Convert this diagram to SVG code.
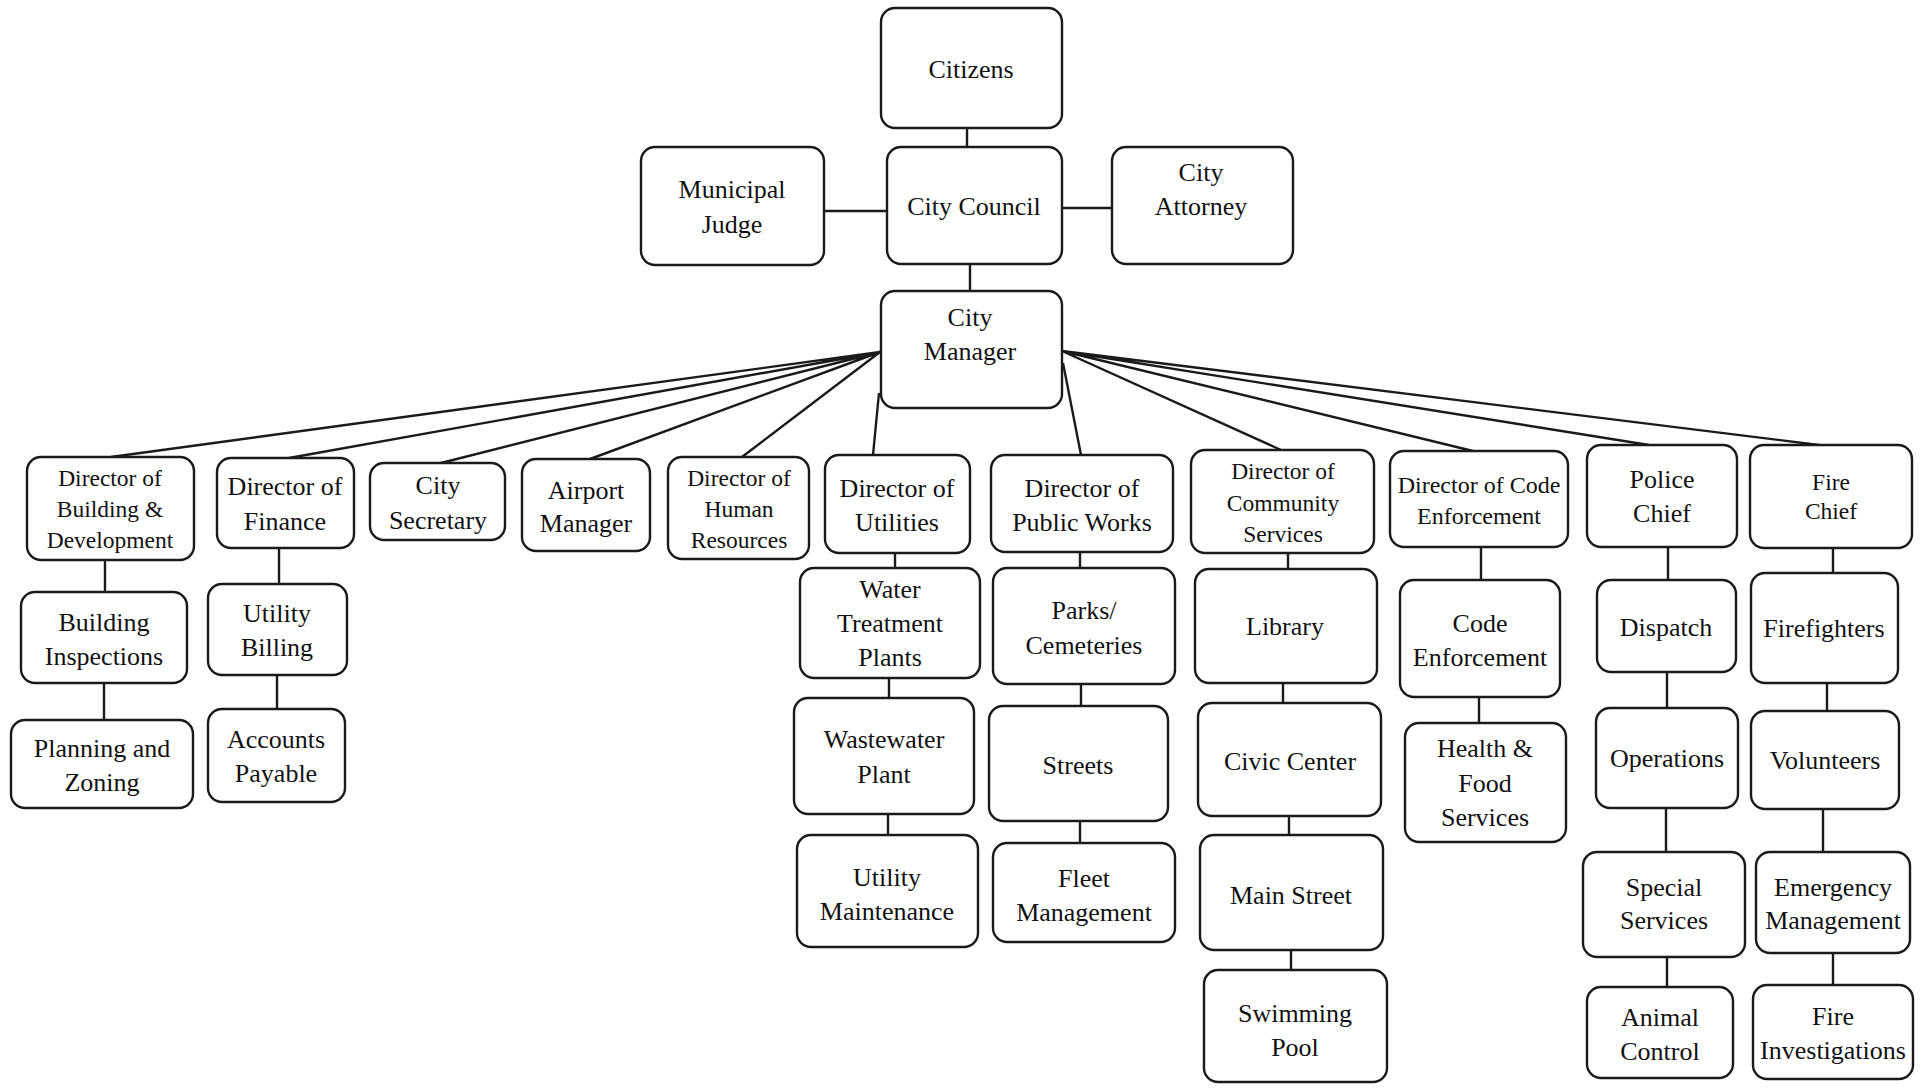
<svg xmlns="http://www.w3.org/2000/svg" width="1926" height="1090" viewBox="0 0 1926 1090">
<style>
  .box{fill:#fff;stroke:#1a1a1a;stroke-width:2.4}
  .t{font-family:"Liberation Serif","Times New Roman",serif;font-size:26px;fill:#111;text-anchor:middle}
  .s{font-size:23.5px}
  .c{stroke:#1a1a1a;stroke-width:2.4;fill:none}
</style>
<rect width="1926" height="1090" fill="#fff"/>
<g id="connectors" class="c">
  <path d="M967 128V147M970 264V291M824 211H887M1062 208H1112"/>
  <path d="M880 352L111 457M880 352L289 458M880 352L441 463M880 352L590 459M880 352L742 457M879 393L873 455"/>
  <path d="M1062 351L1281 450M1062 351L1473 451M1062 351L1649 445M1062 351L1819 445M1063 363L1081 455"/>
  <path d="M105 560V592M104 683V720"/>
  <path d="M279 548V584M277 675V709"/>
  <path d="M895 553V568M889 678V698M888 814V835"/>
  <path d="M1080 552V568M1081 684V706M1080 821V843"/>
  <path d="M1288 553V569M1283 683V703M1289 816V835M1291 950V970"/>
  <path d="M1481 547V580M1479 697V723"/>
  <path d="M1668 547V580M1667 672V708M1666 808V852M1667 957V987"/>
  <path d="M1833 548V573M1827 683V711M1823 809V852M1833 953V985"/>
</g>
<g id="citizens"><rect class="box" x="881" y="8" width="181" height="120" rx="14"/><text class="t" x="971" y="78">Citizens</text></g>
<g id="council"><rect class="box" x="887" y="147" width="175" height="117" rx="14"/><text class="t" x="974" y="215">City Council</text></g>
<g id="judge"><rect class="box" x="641" y="147" width="183" height="118" rx="14"/><text class="t" x="732" y="198">Municipal</text><text class="t" x="732" y="233">Judge</text></g>
<g id="attorney"><rect class="box" x="1112" y="147" width="181" height="117" rx="14"/><text class="t" x="1201" y="181">City</text><text class="t" x="1201" y="215">Attorney</text></g>
<g id="manager"><rect class="box" x="881" y="291" width="181" height="117" rx="14"/><text class="t" x="970" y="326">City</text><text class="t" x="970" y="360">Manager</text></g>

<g id="dir-bldg"><rect class="box" x="27" y="457" width="167" height="103" rx="14"/><text class="t s" x="110" y="486">Director of</text><text class="t s" x="110" y="517">Building &amp;</text><text class="t s" x="110" y="548">Development</text></g>
<g id="dir-fin"><rect class="box" x="217" y="458" width="137" height="90" rx="14"/><text class="t" x="285" y="495">Director of</text><text class="t" x="285" y="530">Finance</text></g>
<g id="city-sec"><rect class="box" x="370" y="463" width="135" height="77" rx="14"/><text class="t" x="438" y="494">City</text><text class="t" x="438" y="529">Secretary</text></g>
<g id="airport"><rect class="box" x="522" y="459" width="128" height="92" rx="14"/><text class="t" x="586" y="499">Airport</text><text class="t" x="586" y="532">Manager</text></g>
<g id="dir-hr"><rect class="box" x="668" y="457" width="141" height="102" rx="14"/><text class="t s" x="739" y="486">Director of</text><text class="t s" x="739" y="517">Human</text><text class="t s" x="739" y="548">Resources</text></g>
<g id="dir-util"><rect class="box" x="825" y="455" width="145" height="98" rx="14"/><text class="t" x="897" y="497">Director of</text><text class="t" x="897" y="531">Utilities</text></g>
<g id="dir-pw"><rect class="box" x="991" y="455" width="182" height="97" rx="14"/><text class="t" x="1082" y="497">Director of</text><text class="t" x="1082" y="531">Public Works</text></g>
<g id="dir-comm"><rect class="box" x="1191" y="450" width="183" height="103" rx="14"/><text class="t s" x="1283" y="479">Director of</text><text class="t s" x="1283" y="511">Community</text><text class="t s" x="1283" y="542">Services</text></g>
<g id="dir-code"><rect class="box" x="1390" y="451" width="178" height="96" rx="14"/><text class="t" style="font-size:24px" x="1479" y="493">Director of Code</text><text class="t" style="font-size:24px" x="1479" y="524">Enforcement</text></g>
<g id="police"><rect class="box" x="1587" y="445" width="150" height="102" rx="14"/><text class="t" x="1662" y="488">Police</text><text class="t" x="1662" y="522">Chief</text></g>
<g id="fire"><rect class="box" x="1750" y="445" width="162" height="103" rx="14"/><text class="t s" x="1831" y="490">Fire</text><text class="t s" x="1831" y="519">Chief</text></g>

<g id="bldg-insp"><rect class="box" x="21" y="592" width="166" height="91" rx="14"/><text class="t" x="104" y="631">Building</text><text class="t" x="104" y="665">Inspections</text></g>
<g id="planning"><rect class="box" x="11" y="720" width="182" height="88" rx="14"/><text class="t" x="102" y="757">Planning and</text><text class="t" x="102" y="791">Zoning</text></g>
<g id="util-billing"><rect class="box" x="208" y="584" width="139" height="91" rx="14"/><text class="t" x="277" y="622">Utility</text><text class="t" x="277" y="656">Billing</text></g>
<g id="accounts"><rect class="box" x="208" y="709" width="137" height="93" rx="14"/><text class="t" x="276" y="748">Accounts</text><text class="t" x="276" y="782">Payable</text></g>

<g id="water"><rect class="box" x="800" y="568" width="180" height="110" rx="14"/><text class="t" x="890" y="598">Water</text><text class="t" x="890" y="632">Treatment</text><text class="t" x="890" y="666">Plants</text></g>
<g id="wastewater"><rect class="box" x="794" y="698" width="180" height="116" rx="14"/><text class="t" x="884" y="748">Wastewater</text><text class="t" x="884" y="783">Plant</text></g>
<g id="util-maint"><rect class="box" x="797" y="835" width="181" height="112" rx="14"/><text class="t" x="887" y="886">Utility</text><text class="t" x="887" y="920">Maintenance</text></g>

<g id="parks"><rect class="box" x="993" y="568" width="182" height="116" rx="14"/><text class="t" x="1084" y="619">Parks/</text><text class="t" x="1084" y="654">Cemeteries</text></g>
<g id="streets"><rect class="box" x="989" y="706" width="179" height="115" rx="14"/><text class="t" x="1078" y="774">Streets</text></g>
<g id="fleet"><rect class="box" x="993" y="843" width="182" height="99" rx="14"/><text class="t" x="1084" y="887">Fleet</text><text class="t" x="1084" y="921">Management</text></g>

<g id="library"><rect class="box" x="1195" y="569" width="182" height="114" rx="14"/><text class="t" x="1285" y="635">Library</text></g>
<g id="civic"><rect class="box" x="1198" y="703" width="183" height="113" rx="14"/><text class="t" x="1290" y="770">Civic Center</text></g>
<g id="mainst"><rect class="box" x="1200" y="835" width="183" height="115" rx="14"/><text class="t" x="1291" y="904">Main Street</text></g>
<g id="pool"><rect class="box" x="1204" y="970" width="183" height="112" rx="14"/><text class="t" x="1295" y="1022">Swimming</text><text class="t" x="1295" y="1056">Pool</text></g>

<g id="code-enf"><rect class="box" x="1400" y="580" width="160" height="117" rx="14"/><text class="t" x="1480" y="632">Code</text><text class="t" x="1480" y="666">Enforcement</text></g>
<g id="health"><rect class="box" x="1405" y="723" width="161" height="119" rx="14"/><text class="t" x="1485" y="757">Health &amp;</text><text class="t" x="1485" y="792">Food</text><text class="t" x="1485" y="826">Services</text></g>

<g id="dispatch"><rect class="box" x="1597" y="580" width="139" height="92" rx="14"/><text class="t" x="1666" y="636">Dispatch</text></g>
<g id="operations"><rect class="box" x="1596" y="708" width="142" height="100" rx="14"/><text class="t" x="1667" y="767">Operations</text></g>
<g id="special"><rect class="box" x="1583" y="852" width="162" height="105" rx="14"/><text class="t" x="1664" y="896">Special</text><text class="t" x="1664" y="929">Services</text></g>
<g id="animal"><rect class="box" x="1587" y="987" width="146" height="91" rx="14"/><text class="t" x="1660" y="1026">Animal</text><text class="t" x="1660" y="1060">Control</text></g>

<g id="firefighters"><rect class="box" x="1751" y="573" width="147" height="110" rx="14"/><text class="t" x="1824" y="637">Firefighters</text></g>
<g id="volunteers"><rect class="box" x="1751" y="711" width="148" height="98" rx="14"/><text class="t" x="1825" y="769">Volunteers</text></g>
<g id="emergency"><rect class="box" x="1756" y="852" width="154" height="101" rx="14"/><text class="t" x="1833" y="896">Emergency</text><text class="t" x="1833" y="929">Management</text></g>
<g id="fireinv"><rect class="box" x="1753" y="985" width="160" height="94" rx="14"/><text class="t" x="1833" y="1025">Fire</text><text class="t" x="1833" y="1059">Investigations</text></g>
</svg>
